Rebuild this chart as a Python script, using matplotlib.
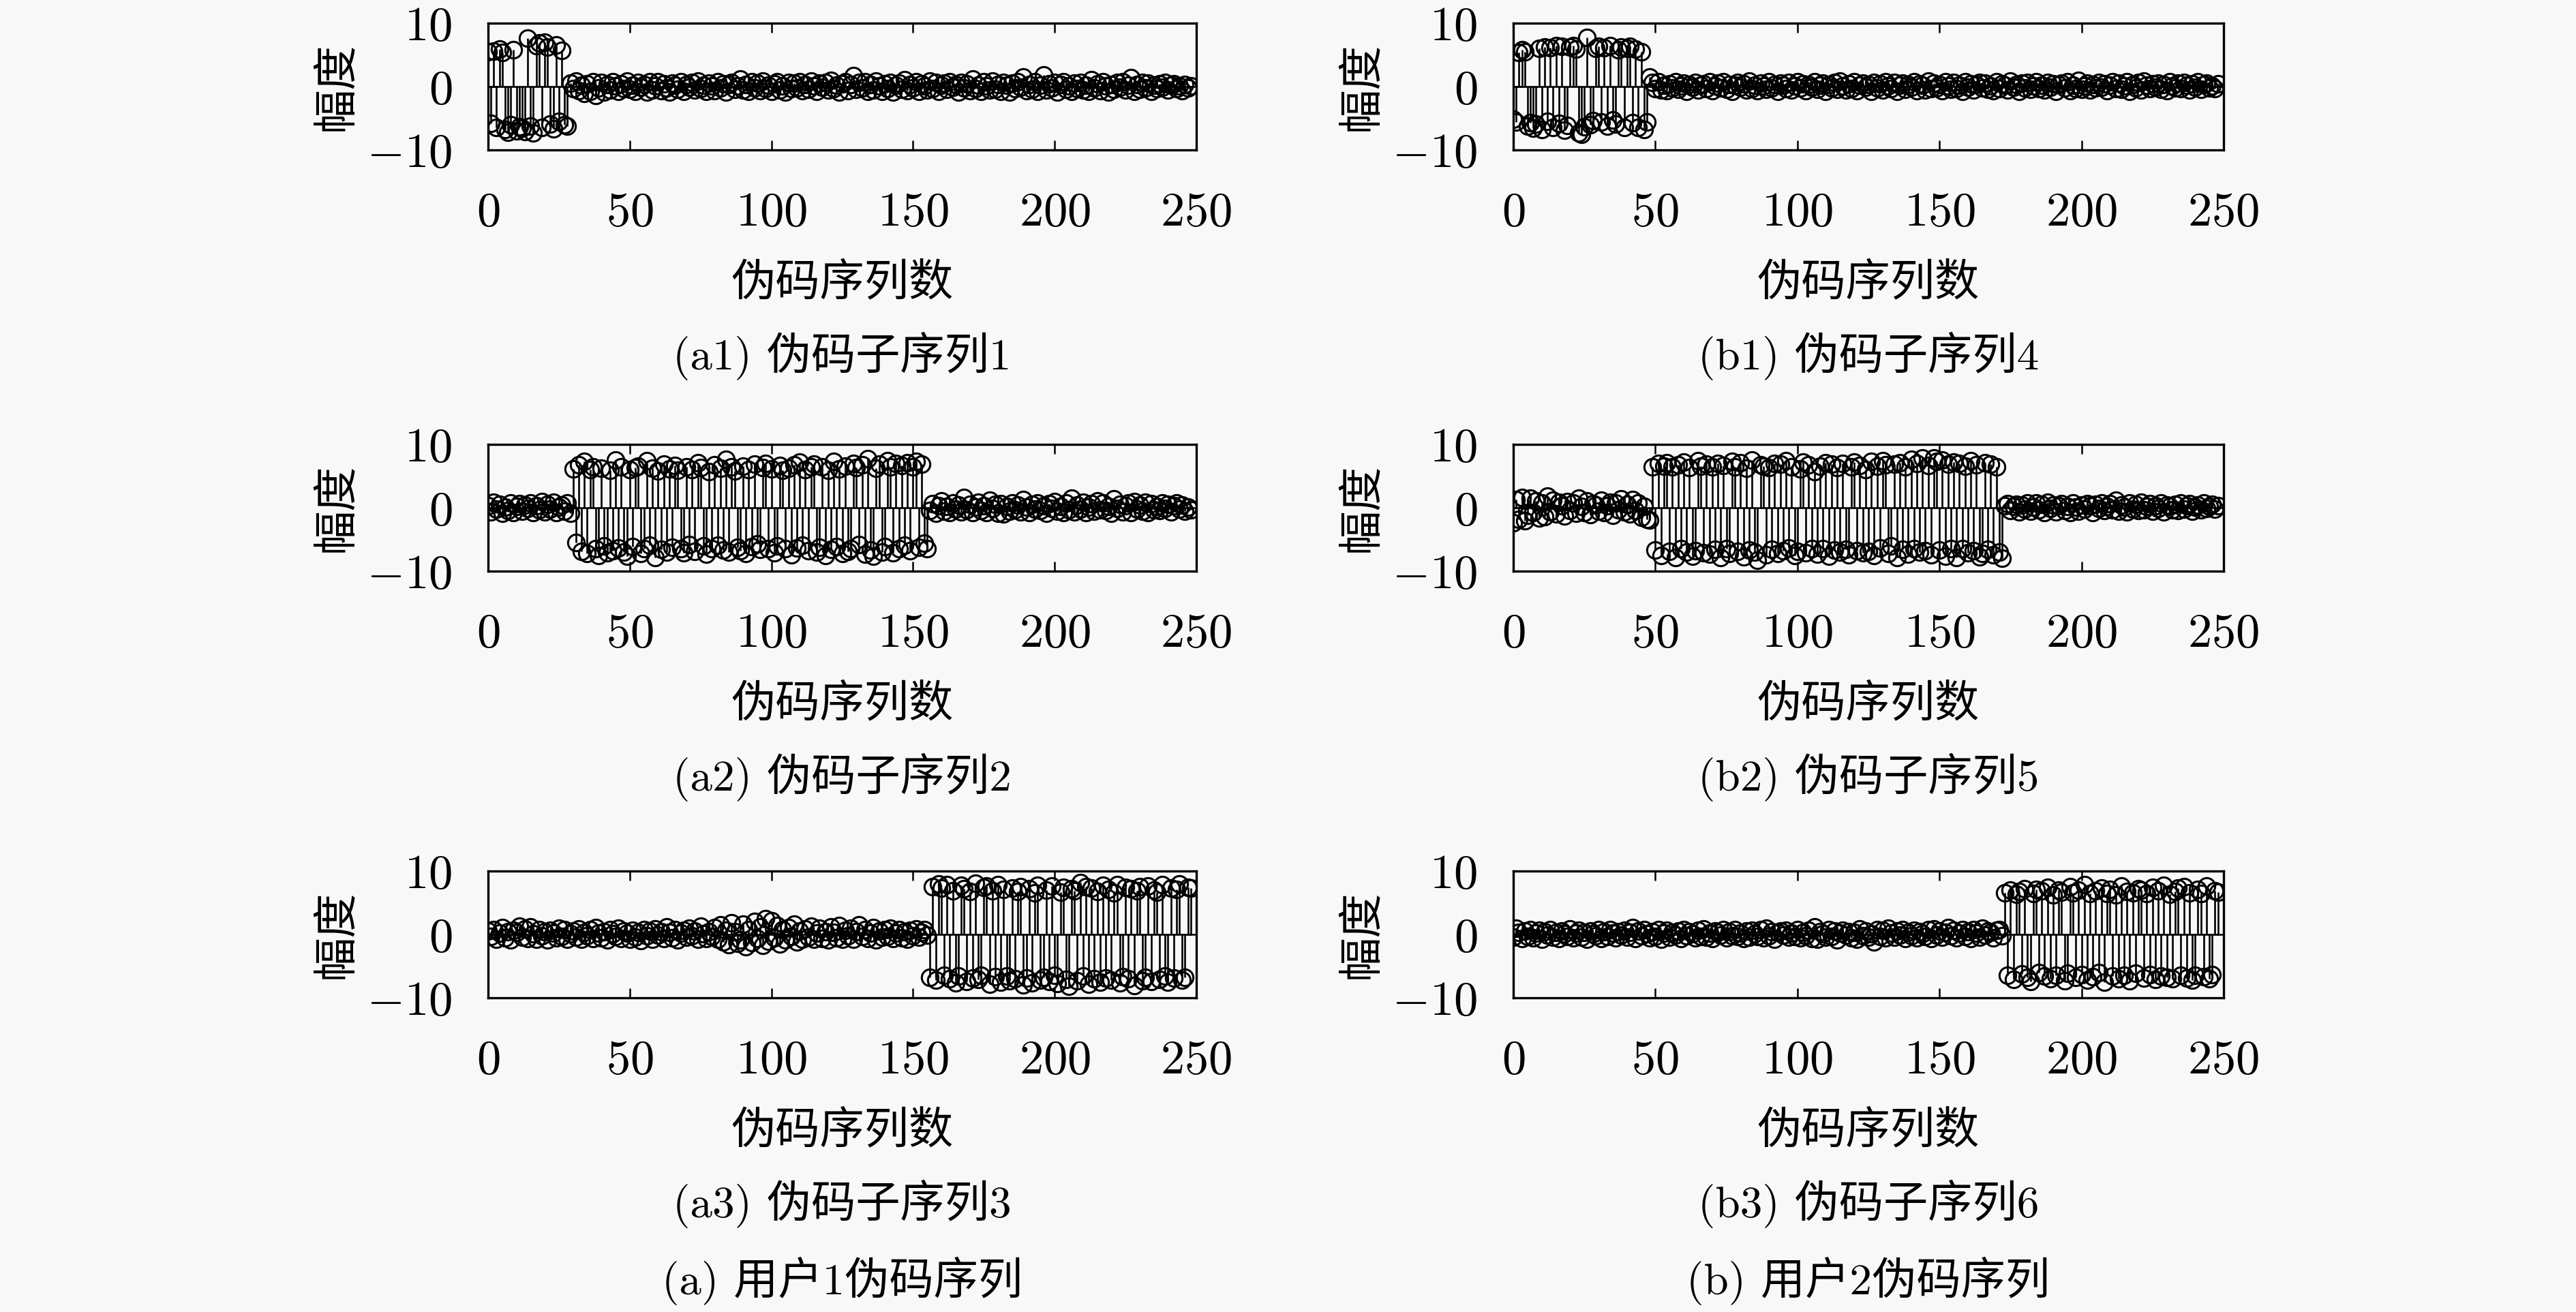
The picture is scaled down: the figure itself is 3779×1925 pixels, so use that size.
import numpy as np
import matplotlib
matplotlib.use("Agg")
import matplotlib.pyplot as plt

plt.rcParams['font.family'] = ['cmr10', 'Noto Sans CJK SC', 'DejaVu Sans']
plt.rcParams['mathtext.fontset'] = 'cm'

# ---------------- data ----------------
x_ticks = [0, 50, 100, 150, 200, 250]
x_tick_labels = ['$0$', '$50$', '$100$', '$150$', '$200$', '$250$']
y_ticks = [-10, 0, 10]
y_tick_labels = ['$-10$', '$0$', '$10$']
x_label = '伪码序列数'
y_label = '幅度'
captions_a = ['(a1) 伪码子序列1', '(a2) 伪码子序列2', '(a3) 伪码子序列3']
captions_b = ['(b1) 伪码子序列4', '(b2) 伪码子序列5', '(b3) 伪码子序列6']
group_captions = ['(a) 用户1伪码序列', '(b) 用户2伪码序列']

a1_active = [5.5, -5.8, 5.6, -6.5, 5.9, 5.4, -6.8, -7.2, -6.0, 5.8, -7.0, -6.3, -6.6, -7.1, 7.6,
             -6.2, -7.3, 6.5, 6.9, -6.4, 7.0, 6.2, -5.9, -6.7, 6.6, -5.5, 5.7, -6.0, -6.2]
a1_noise = [0.5, -0.3, 0.9, -0.6, 0.2, -1.1, 0.4, -0.8, 0.7, -1.4, -0.2, 0.6, -0.9, 0.3, -0.5, 0.8, 0.1, -0.7, 0.4, -0.3,
            0.9, -0.4, 0.2, -0.8, 0.6, -0.1, 0.3, -0.9, 0.7, -0.5, 0.1, 0.8, -0.6, 0.4, -0.2, -0.9, 0.5, 0.2, -0.4, 0.7,
            -0.8, 0.3, -0.1, 0.6, -0.5, 0.9, -0.3, 0.2, -0.7, 0.5, 0.1, -0.6, 0.8, -0.2, 0.4, -0.9, 0.3, 0.6, -0.4, 0.1,
            1.2, -0.5, 0.3, -0.8, 0.7, -0.2, 0.5, -0.6, 0.9, -0.3, 0.2, -0.7, 0.4, 0.8, -0.5, 0.1, -0.9, 0.6, -0.3, 0.5,
            -0.2, 0.7, -0.6, 0.3, -0.4, 0.9, 0.1, -0.8, 0.5, -0.1, 0.6, -0.5, 1.0, -0.3, 0.2, -0.9, 0.4, 0.7, -0.6, 0.3,
            1.7, -0.4, 0.6, -0.2, 0.8, -0.7, 0.3, -0.5, 0.9, 0.1, -0.8, 0.4, -0.3, 0.6, -0.9, 0.2, 0.5, -0.4, 1.1, -0.6,
            0.3, -0.2, 0.7, -0.8, 0.4, 0.1, -0.5, 0.9, -0.3, 0.6, -0.7, 0.2, 0.5, -0.4, 0.8, -0.1, 0.3, -0.9, 0.6, -0.2,
            0.4, -0.6, 1.2, -0.3, 0.2, -0.8, 0.7, 0.1, -0.5, 0.9, -0.4, 0.3, -0.7, 0.6, 0.2, -0.9, 0.5, -0.3, 0.8, -0.1,
            1.5, -0.6, 0.3, -0.4, 0.7, -0.8, 0.2, 1.8, -0.5, 0.4, -0.2, 0.6, -0.9, 0.3, 0.8, -0.4, 0.1, -0.7, 0.5, -0.3,
            0.6, -0.5, 0.2, -0.8, 1.1, -0.2, 0.4, -0.6, 0.7, 0.1, -0.9, 0.3, -0.4, 0.6, -0.1, 0.8, -0.5, 0.2, 1.4, -0.7,
            0.3, -0.4, 0.6, -0.2, 0.5, -0.8, 0.2, -0.3, 0.4, -0.1, 0.6, -0.5, 0.2, 0.4, -0.3, 0.1, -0.6, 0.3, -0.2, 0.1]

a2_noise_pre = [0.3, -0.6, 0.9, -0.2, 0.5, -0.9, 0.1, -0.4, 0.7, -0.8, 0.2, 0.6, -0.5, 0.4, -0.1, 0.8, -0.7, 0.3, -0.3, 1.0,
                -0.6, 0.5, -0.2, 0.9, -0.8, 0.1, 0.4, -0.5, 0.7, -0.9]
a2_active = [6.1, -5.5, 6.8, -6.9, 7.3, -7.2, 6.0, 6.5, -6.4, -7.5, 6.2, -6.0, -7.1, 5.9, -6.8, 7.5, -6.3, 6.4, -7.0, -7.6,
             6.0, -6.1, 6.3, 6.6, -7.2, -6.5, 7.4, -5.9, 6.2, -7.8, 5.8, -6.6, 6.9, -7.0, 6.1, -6.2, 6.7, 5.9, -6.4, -7.1,
             6.5, -5.8, 6.0, -6.9, 7.1, 6.3, -6.0, -7.3, 5.7, -6.5, 6.8, -5.9, 6.2, -6.7, 7.6, -7.0, 6.4, 5.8, -6.2, -6.8,
             6.6, -7.2, 6.0, -6.1, 6.9, -5.7, -6.6, 6.3, 7.0, -6.4, 6.1, -7.1, -6.0, 6.7, 5.9, -6.5, 6.2, -7.4, 6.8, -6.3,
             7.2, -5.9, 6.0, -6.8, 6.5, 6.9, -7.0, -6.2, 6.4, -7.5, 5.9, -6.6, 7.3, -6.1, 6.1, -7.2, 6.6, -6.9, -6.4, 7.0,
             6.3, -5.8, 6.8, -7.3, 7.7, -6.7, -7.6, 6.2, 6.9, -7.0, -6.1, 7.4, 6.5, -7.1, 7.0, -6.5, 6.7, -5.9, 7.1, -6.8,
             6.4, 7.3, -6.2, 6.9, -5.6, -6.4]
a2_noise_post = [-0.4, 0.6, -0.9, 0.3, 1.1, -0.5, 0.2, -0.7, 0.8, -0.2, 0.4, -0.6, 1.6, -0.3, 0.5, -0.8, 0.1, 0.9, -0.4, 0.3,
                 -0.7, 1.2, -0.1, 0.5, -0.9, 0.6, -1.0, 0.2, -0.5, 0.8, -0.3, 0.4, -0.6, 1.3, 0.1, -0.8, 0.5, -0.2, 0.7, -0.4,
                 0.3, -0.9, 0.6, -0.1, 1.0, -0.5, 0.2, -0.7, 0.8, -0.3, 1.5, -0.6, 0.4, -0.2, 0.9, -0.8, 0.1, 0.6, -0.5, 1.1,
                 -0.3, 0.7, -0.4, 0.2, -0.9, 1.4, -0.1, 0.5, -0.6, 0.3, 0.8, -0.7, 1.0, -0.2, 0.4, -0.5, 0.9, -0.8, 0.6, -0.3,
                 0.2, -0.4, 0.7, -0.1, 0.5, -0.6, 0.3, 0.8, -0.2, 0.4, -0.5, 0.1, -0.3]

a3_noise = [0.5, -0.3, 0.8, -0.7, 0.2, 1.1, -0.5, 0.4, -0.9, 0.6, 0.3, 1.3, -0.4, 0.9, -0.6, 1.2, 0.1, -0.8, 0.7, -0.2,
            0.4, -0.9, 0.6, 0.2, -0.5, 1.0, -0.3, 0.8, -0.7, 0.1, 0.5, -0.4, 0.9, -0.8, 0.3, -0.2, 0.7, -0.6, 1.1, 0.2,
            -0.5, 0.4, -0.9, 0.7, 0.1, -0.3, 1.0, -0.6, 0.5, 0.2, -0.8, 0.6, -0.4, 0.3, -1.0, 0.8, -0.2, 0.5, -0.7, 0.9,
            -0.1, 0.4, -0.6, 1.2, 0.3, -0.5, 0.7, -0.9, 0.2, 0.6, -0.4, 1.0, -0.2, 0.5, -0.8, 1.3, 0.1, -0.6, 0.4, -0.3,
            1.1, -0.7, 1.5, -1.2, 0.6, -1.6, 1.8, 0.4, -1.4, -0.9, 1.6, -1.9, 0.8, -1.3, 2.0, -0.6, 1.2, -1.7, 2.5, -1.1,
            2.1, -0.5, 1.4, -1.5, 0.7, -0.9, 1.1, -0.3, 1.6, -1.2, 0.5, -0.8, 0.9, -0.4, 1.3, -0.7, 0.2, 1.0, -0.6, 0.4,
            -0.9, 1.2, 0.3, -0.5, 1.4, -0.8, 0.6, -0.2, 1.0, -0.7, 0.4, 1.5, -0.3, 0.8, -0.6, 0.2, 1.1, -0.9, 0.5, -0.4,
            0.7, -0.3, 1.0, -0.6, 0.2, 0.8, -0.5, 0.4, -0.8, 0.6, -0.2, 0.9, -0.4, 0.3, 0.7, -0.1]
a3_active = [-6.8, 7.5, -7.2, 8.0, 7.3, -6.5, 7.8, -7.0, 6.9, -7.6, -6.6, 7.7, 7.2, -7.4, 6.8, -6.9, 8.1, -7.1, -6.4, 7.4,
             7.6, -7.8, 6.9, -6.7, 7.9, -7.5, 7.1, -6.6, -7.3, 7.3, -7.0, 6.8, 7.5, -8.0, -6.9, 7.2, -7.6, 6.6, 7.7, -7.2,
             -6.8, 7.0, -7.4, 7.6, -6.5, -7.7, 6.7, 7.4, -7.1, -8.2, 7.2, 6.9, -7.3, 8.2, -6.6, 7.5, -7.8, 7.3, -7.0, 6.8,
             -7.5, 7.7, -6.9, 7.1, -7.2, 6.6, 7.9, -7.6, -6.7, 7.4, -7.0, 7.2, -8.1, 6.9, 7.5, -7.3, -6.8, 7.6, -7.4, 7.0,
             6.7, -7.1, 7.8, -6.6, -7.5, 7.3, -6.9, 7.1, 8.0, -7.2, -6.8, 7.4, 7.3]

b1_active = [-5.2, -5.6, 5.4, 5.8, 5.5, -6.2, -5.7, -6.6, -5.9, 6.0, -6.8, 6.2, -5.5, 6.1, -6.4, 6.4, -5.8, 6.3, -6.9, -6.1,
             6.2, 6.5, 5.9, -7.3, -7.5, -6.3, 7.7, -6.0, -5.4, 6.0, 6.3, -5.6, 6.1, -6.2, 6.4, -5.3, -5.9, 5.8, 6.2, -6.5,
             6.0, 6.3, -5.7, 5.9, -6.4, 5.5, -6.8, -5.6]
b1_noise = [1.5, 0.6, -0.3, 0.8, -0.5, 0.2, -0.6, 0.4, -0.2, 0.7, -0.4, 0.1, 0.5, -0.7, 0.3, -0.1, 0.6, -0.5, 0.2, 0.4,
            -0.3, 0.7, -0.6, 0.1, 0.5, -0.2, 0.8, -0.4, 0.3, -0.7, 0.2, 0.6, -0.1, 0.4, -0.5, 0.9, -0.3, 0.2, -0.6, 0.5,
            0.1, -0.4, 0.7, -0.2, 0.3, -0.8, 0.5, 0.2, -0.3, 0.6, -0.5, 0.1, 0.8, -0.2, 0.4, -0.6, 0.3, -0.1, 0.7, -0.4,
            0.2, 0.5, -0.7, 0.3, -0.2, 0.6, -0.4, 0.9, 0.1, -0.5, 0.4, -0.3, 0.7, -0.6, 0.2, 0.5, -0.1, 0.3, -0.8, 0.6,
            -0.2, 0.4, -0.5, 0.8, 0.1, -0.3, 0.6, -0.7, 0.2, 0.5, -0.4, 0.3, -0.1, 0.7, -0.6, 0.4, 0.2, -0.5, 0.9, -0.3,
            0.5, -0.2, 0.3, -0.6, 0.7, 0.1, -0.4, 0.6, -0.3, 0.2, -0.7, 0.8, -0.1, 0.4, -0.5, 0.3, 0.6, -0.2, 0.5, -0.4,
            0.1, -0.6, 0.7, -0.3, 0.4, 0.2, -0.5, 0.9, -0.1, 0.3, -0.7, 0.5, -0.2, 0.6, -0.4, 0.1, 0.8, -0.3, 0.2, -0.5,
            0.6, -0.1, 0.4, -0.7, 0.3, 0.5, -0.2, 0.7, -0.6, 0.2, -0.3, 1.0, -0.4, 0.1, 0.5, -0.5, 0.3, -0.2, 0.6, -0.1,
            0.4, -0.6, 0.2, 0.7, -0.3, 0.5, -0.4, 0.1, 0.8, -0.7, 0.3, -0.2, 0.6, -0.5, 0.9, 0.2, -0.3, 0.4, -0.1, 0.5,
            -0.4, 0.3, -0.6, 0.7, 0.1, -0.2, 0.5, -0.3, 0.6, 0.2, -0.5, 0.4, -0.1, 0.8, -0.4, 0.3, 0.5, -0.2, 0.1, -0.3,
            0.4]

b2_noise_pre = [-2.4, 1.3, -1.8, 1.6, -2.0, -1.2, 1.5, -0.8, 1.1, -1.6, 0.7, -1.4, 1.8, -0.6, 1.2, -1.0, 0.9, 0.3, -1.3, 1.0,
                -0.4, 0.8, -0.9, 1.5, 0.2, -0.7, 1.1, -1.1, 0.6, 0.4, -0.5, 1.2, -0.8, 0.3, 0.9, -1.2, 0.7, -0.3, 1.4, -0.6,
                0.5, -1.0, 1.3, -0.4, 0.8, -1.5, 0.2, -1.8, -1.9]
b2_active = [6.4, -6.7, 7.0, -7.5, 6.6, 7.1, -6.9, 6.5, -7.8, 6.8, -6.4, 7.2, -7.0, 6.3, -7.6, -6.8, 7.4, 6.6, -7.1, 6.9,
             -7.3, 6.5, -6.6, 7.0, -7.9, 6.7, -6.5, -7.2, 7.3, 6.4, -6.9, 7.1, -7.7, 6.2, -6.7, 7.5, -7.0, -8.3, 6.8, 6.6,
             -7.4, 6.3, -6.6, 7.0, -7.2, 6.9, -6.8, 7.4, -6.3, 6.5, -7.5, -6.9, 6.1, 7.2, -7.1, 6.8, -6.5, 5.7, -7.3, 6.6,
             -6.4, 7.1, -7.6, 6.9, -6.7, 6.3, -7.0, 7.0, -6.6, -7.4, 6.5, 7.2, -6.8, 6.7, -7.1, 6.0, -6.9, 7.3, -7.5, 6.6,
             -6.3, 7.4, 6.8, -7.2, -6.0, 6.9, -7.8, 7.1, -6.6, 6.4, -7.3, 7.6, -6.5, 7.0, -7.0, 7.8, -6.8, 6.7, -7.4, 7.9,
             7.3, -6.7, 7.5, -7.6, 6.9, -6.4, 7.2, -7.9, 7.0, -6.5, 6.6, -7.1, 7.4, -6.8, 6.8, -7.7, -7.2, 7.1, -6.6, 6.9,
             -7.4, 6.5, -7.0, -8.0]
b2_noise_post = [0.3, 0.6, -0.4, 0.2, 0.5, -0.6, 0.4, -0.2, 0.8, -0.5, 0.1, 0.7, -0.3, 0.5, -0.7, 0.9, -0.1, 0.4, -0.6, 0.3,
                 0.6, -0.4, 0.2, -0.8, 0.7, 0.1, -0.5, 0.4, -0.2, 0.6, 0.3, -0.7, 0.5, -0.1, 0.8, -0.4, 0.2, 0.6, -0.3, 1.2,
                 -0.5, 0.4, 0.1, -0.6, 0.7, -0.2, 0.5, -0.4, 0.9, -0.3, 0.2, 0.6, -0.5, 0.3, -0.1, 0.7, -0.6, 0.4, 0.2, -0.3,
                 0.5, -0.4, 0.8, -0.2, 0.3, 0.6, -0.5, 0.1, 0.4, -0.3, 0.7, -0.1, 0.2, 0.5, -0.2, 0.3]

b3_noise = [-0.4, 1.0, 0.3, -0.6, 0.5, -0.3, 0.7, -0.5, 0.2, 0.6, -0.7, 0.4, -0.1, 0.8, -0.4, 0.3, -0.6, 0.5, 0.1, -0.3,
            0.9, -0.5, 0.2, 0.6, -0.4, 0.3, -0.7, 0.5, 0.1, -0.2, 0.8, -0.6, 0.4, -0.3, 0.7, 0.2, -0.5, 0.4, -0.1, 0.6,
            -0.4, 0.3, 1.1, -0.6, 0.5, -0.2, 0.7, 0.1, -0.5, 0.4, -0.3, 0.8, -0.7, 0.2, 0.6, -0.4, 0.3, -0.1, 0.5, -0.6,
            0.7, -0.2, 0.4, 0.1, -0.5, 0.6, -0.3, 0.9, -0.4, 0.2, -0.6, 0.5, 0.3, -0.1, 0.7, -0.5, 0.4, -0.2, 0.8, -0.3,
            0.2, -0.6, 0.5, -0.4, 0.6, 0.1, -0.3, 0.7, -0.5, 1.0, -0.2, 0.4, -0.7, 0.3, 0.5, -0.1, 0.6, -0.4, 0.2, -0.3,
            0.8, -0.5, 0.3, -0.2, 0.6, -0.6, 1.2, -0.8, 0.4, 0.1, -0.4, 0.7, -0.3, 0.5, -0.9, 0.2, 0.6, -0.1, 0.4, -0.5,
            0.3, -0.7, 0.9, -0.2, 0.5, -0.4, 0.1, -1.2, 0.7, -0.3, 0.6, -0.5, 1.0, 0.2, -0.4, 0.5, -0.1, 0.8, -0.6, 0.3,
            -0.2, 0.6, -0.5, 0.4, 0.1, -0.3, 0.7, -0.6, 0.9, -0.1, 0.5, -0.4, 0.3, 1.1, -0.2, 0.6, -0.5, 0.2, 0.8, -0.3,
            0.4, -0.6, 0.7, 0.2, -0.4, 1.0, -0.1, 0.5, 0.3, -0.5, 0.6, 0.8, -0.2]
b3_active = [6.6, -6.5, 7.0, -7.1, 6.3, 6.8, -6.2, 7.2, -6.8, -7.4, 6.5, 7.1, -6.0, 6.9, -6.6, 7.4, -7.0, 6.2, -6.4, 7.0,
             6.7, -7.3, -6.1, 7.5, 6.6, -6.8, 7.0, -6.3, 7.8, -7.2, 6.4, -6.7, 6.9, -6.0, 7.3, -7.5, 6.5, 7.1, -6.6, 6.2,
             -7.0, 7.6, -6.4, 6.8, -7.3, 6.6, -6.1, 7.2, 7.0, -6.9, 6.5, -6.3, 7.4, -7.1, 6.9, -6.6, 7.7, -6.8, 6.3, -7.0,
             6.8, 7.3, -6.5, 7.5, -6.9, 6.6, -7.2, -6.4, 7.1, 6.4, -6.7, 7.6, -7.0, -6.3, 6.9, 6.7]

series_a = [a1_active + a1_noise,
            a2_noise_pre + a2_active + a2_noise_post,
            a3_noise + a3_active]
series_b = [b1_active + b1_noise,
            b2_noise_pre + b2_active + b2_noise_post,
            b3_noise + b3_active]

# ---------------- figure ----------------
W, H = 3780, 1925
bg = '#f8f8f8'
fig = plt.figure(figsize=(W / 100, H / 100), dpi=100, facecolor=bg)
FS = 47
FS_TICK = 51

col_left_px = [716, 2220]
col_width_px = [1039, 1042]
row_top_px = [34, 652, 1278]
row_h_px = 186


def fx(px):
    return px / W


def fy(py):
    return 1 - py / H


for c, (series, caps) in enumerate([(series_a, captions_a), (series_b, captions_b)]):
    for r in range(3):
        y = np.array(series[r])
        x = np.arange(len(y))
        left = col_left_px[c]
        top = row_top_px[r]
        ax = fig.add_axes([fx(left), fy(top + row_h_px), col_width_px[c] / W, row_h_px / H])
        ax.set_facecolor(bg)
        ml, sl, bl = ax.stem(x, y, linefmt='k-', markerfmt='ko', basefmt='k-')
        ml.set_markerfacecolor('none')
        ml.set_markeredgecolor('black')
        ml.set_markersize(17.5)
        ml.set_markeredgewidth(2.2)
        sl.set_linewidth(1.9)
        bl.set_linewidth(1.9)
        bl.set_color('black')
        ax.set_xlim(0, 250)
        ax.set_ylim(-10, 10)
        ax.set_xticks(x_ticks, x_tick_labels)
        ax.set_yticks(y_ticks, y_tick_labels)
        ax.tick_params(direction='in', top=True, right=True, length=10, width=1.8,
                       labelsize=FS_TICK, colors='black')
        ax.tick_params(axis='x', pad=44)
        ax.tick_params(axis='y', pad=38)
        for s in ax.spines.values():
            s.set_linewidth(2.4)
            s.set_color('black')
        cx = left + col_width_px[c] / 2
        bottom = top + row_h_px
        fig.text(fx(left - 222), fy(top + row_h_px / 2), y_label, rotation=90,
                 ha='center', va='center', fontsize=FS)
        fig.text(fx(cx), fy(bottom + 196), x_label, ha='center', va='center', fontsize=FS)
        fig.text(fx(cx), fy(bottom + 302), caps[r], ha='center', va='center', fontsize=FS)

for c in range(2):
    cx = col_left_px[c] + col_width_px[c] / 2
    fig.text(fx(cx), fy(1879), group_captions[c], ha='center', va='center', fontsize=FS)

fig.savefig('out.png', dpi=100, facecolor=bg)
